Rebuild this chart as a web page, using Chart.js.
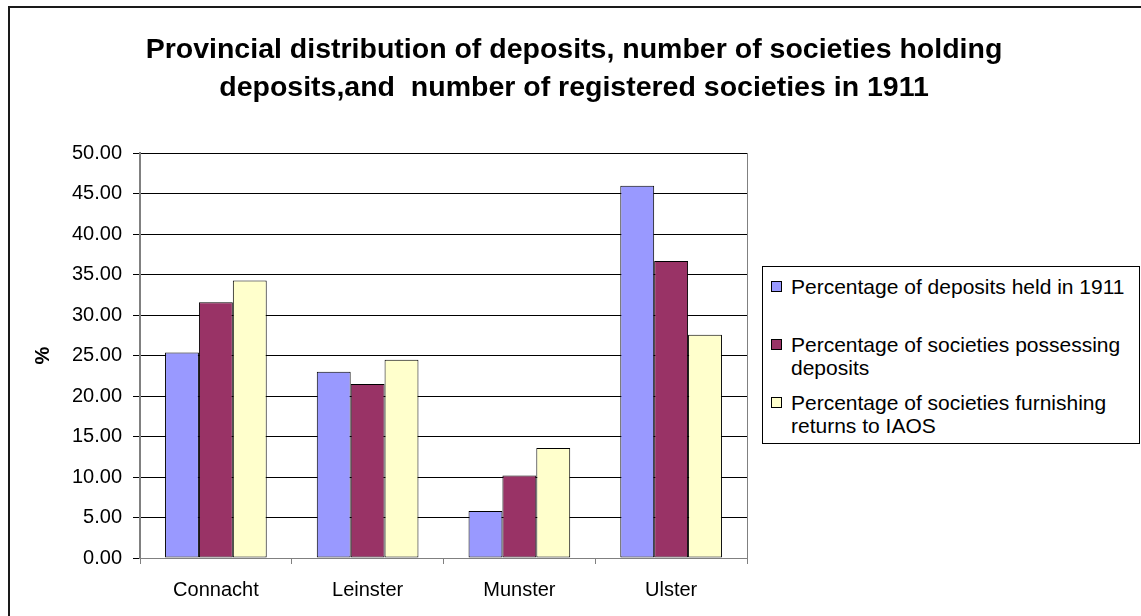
<!DOCTYPE html>
<html>
<head>
<meta charset="utf-8">
<script src="https://cdn.jsdelivr.net/npm/chart.js@4.4.1/dist/chart.umd.min.js"></script>
<style>
  html, body { margin: 0; padding: 0; background: #fff; overflow: hidden; }
  #wrap { position: relative; width: 1141px; height: 616px; }
  #frame { position: absolute; left: 8px; top: 6px; width: 1200px; height: 700px;
           border-left: 2px solid #1a1a1a; border-top: 2px solid #1a1a1a; }
  #legend { position: absolute; left: 762px; top: 266px; width: 376px; height: 176px;
            border: 1px solid #000; background: #fff;
            font-family: "Liberation Sans", Arial, sans-serif; font-size: 21px; color: #000; }
  .item { display: flex; align-items: flex-start; height: 58px; padding-left: 8px; }
  .item:first-child { margin-top: 8px; }
  .sw { width: 9px; height: 9px; border: 1px solid #000; margin-top: 6px; flex: none; }
  .txt { margin-left: 9px; line-height: 23px; width: 345px; }
</style>
</head>
<body>
<div id="wrap">
  <canvas id="chart" width="1141" height="616"></canvas>
  <div id="frame"></div>
  <div id="legend"></div>
</div>
<script>
const provinces = ["Connacht", "Leinster", "Munster", "Ulster"];
const seriesNames = [
  "Percentage of deposits held in 1911",
  "Percentage of societies possessing deposits",
  "Percentage of societies furnishing returns to IAOS"
];
const depositsHeld = [25.4, 23.0, 5.8, 46.0];
const societiesWithDeposits = [31.6, 21.5, 10.2, 36.7];
const societiesReturning = [34.3, 24.5, 13.6, 27.6];
const seriesColors = ["#9999FF", "#993366", "#FFFFCC"];
const titleLines = [
  "Provincial distribution of deposits, number of societies holding",
  "deposits,and  number of registered societies in 1911"
];

const font = "'Liberation Sans', Arial, sans-serif";
const values = [depositsHeld, societiesWithDeposits, societiesReturning];

const ctx = document.getElementById("chart").getContext("2d");

new Chart(ctx, {
  type: "bar",
  data: {
    labels: provinces,
    datasets: values.map((v, i) => ({
      label: seriesNames[i],
      data: v,
      backgroundColor: seriesColors[i],
      borderColor: "#000",
      borderWidth: 1,
      borderSkipped: false,
      barPercentage: 1,
      categoryPercentage: 0.67
    }))
  },
  options: {
    responsive: false,
    animation: false,
    layout: { padding: { left: 7, right: 0, top: 0, bottom: 0 } },
    plugins: {
      legend: { display: false },
      tooltip: { enabled: false },
      title: {
        display: true,
        text: titleLines,
        color: "#000",
        font: { family: font, size: 28.5, weight: "bold", lineHeight: 1.34 },
        padding: { top: 31, bottom: 46 }
      }
    },
    scales: {
      x: {
        grid: { drawOnChartArea: false, offset: true, tickLength: 6, color: "#808080" },
        border: { color: "#808080", width: 1 },
        ticks: { color: "#000", font: { family: font, size: 20 }, padding: 14 },
        afterFit: (s) => { s.height = 58; }
      },
      y: {
        min: 0,
        max: 50,
        ticks: {
          stepSize: 5,
          color: "#000",
          padding: 11,
          font: { family: font, size: 20 },
          callback: (v) => v.toFixed(2)
        },
        grid: { color: "#000", lineWidth: 1, tickLength: 7, tickColor: "#000" },
        border: { color: "#808080", width: 2 },
        title: {
          display: true,
          text: "%",
          color: "#000",
          font: { family: font, size: 20, weight: "bold", lineHeight: 1.2 },
          padding: { top: 24, bottom: 0 }
        },
        afterFit: (s) => { s.width = 133; }
      },
      y2: {
        position: "right",
        min: 0,
        max: 50,
        ticks: { display: false },
        grid: { drawOnChartArea: false, drawTicks: false },
        border: { color: "#808080", width: 1 },
        afterFit: (s) => { s.width = 394; }
      }
    }
  }
});

const legend = document.getElementById("legend");
seriesNames.forEach((name, i) => {
  const item = document.createElement("div");
  item.className = "item";
  const sw = document.createElement("div");
  sw.className = "sw";
  sw.style.background = seriesColors[i];
  const txt = document.createElement("div");
  txt.className = "txt";
  txt.textContent = name;
  item.appendChild(sw);
  item.appendChild(txt);
  legend.appendChild(item);
});
</script>
</body>
</html>
